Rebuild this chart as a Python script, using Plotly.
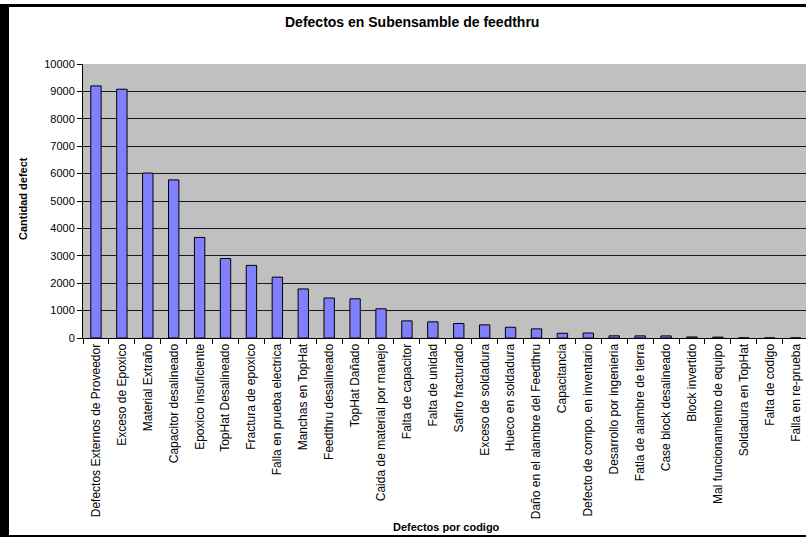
import plotly.graph_objects as go

categories = [
    "Defectos Externos de Proveedor", "Exceso de Epoxico", "Material Extraño",
    "Capacitor desalineado", "Epoxico insuficiente", "TopHat Desalineado",
    "Fractura de epoxico", "Falla en prueba electrica", "Manchas en TopHat",
    "Feedthru desalineado", "TopHat Dañado", "Caida de material por manejo",
    "Falta de capacitor", "Falta de unidad", "Safiro fracturado",
    "Exceso de soldadura", "Hueco en soldadura", "Daño en el alambre del Feedthru",
    "Capacitancia", "Defecto de compo. en inventario", "Desarrollo por ingenieria",
    "Fatla de alambre de tierra", "Case block desalineado", "Block invertido",
    "Mal funcionamiento de equipo", "Soldadura en TopHat", "Falta de codigo",
    "Falla en re-prueba",
]
values = [9200, 9080, 6020, 5770, 3670, 2900, 2650, 2220, 1790, 1460,
          1430, 1065, 625, 590, 528, 480, 392, 333,
          172, 182, 80, 78, 76, 38, 32, 5, 3, 2]
y_ticks = list(range(0, 10001, 1000))
y_tick_labels = [str(v) for v in y_ticks]

title_text = "Defectos en Subensamble de feedthru"
x_title = "Defectos por codigo"
y_title = "Cantidad defect"

W, H = 806, 537
L, R, T, B = 83, 0, 64, 537 - 338
PW = W - L - R
PH = H - T - B


def px(x):
    return (x - L) / PW


def py(y):
    return (H - B - y) / PH


FONT = "Liberation Sans, Arial, sans-serif"

fig = go.Figure(
    go.Bar(
        x=categories,
        y=values,
        width=0.4,
        marker=dict(color="#8080FF", line=dict(color="#000000", width=1)),
    )
)

fig.update_layout(
    width=W,
    height=H,
    margin=dict(l=L, r=R, t=T, b=B, pad=0),
    paper_bgcolor="#FFFFFF",
    plot_bgcolor="#C0C0C0",
    showlegend=False,
    bargap=0.6,
    font=dict(family=FONT, size=11, color="#000000"),
    xaxis=dict(
        type="category",
        range=[-0.5, 27.4],
        tickangle=-90,
        tickson="boundaries",
        ticks="outside",
        ticklen=5,
        tickcolor="#000000",
        showline=True,
        linecolor="#000000",
        linewidth=1,
        showgrid=False,
        tickfont=dict(family=FONT, size=12, color="#000000"),
    ),
    yaxis=dict(
        range=[0, 10000],
        tickvals=y_ticks,
        ticktext=y_tick_labels,
        ticks="outside",
        ticklen=5,
        tickcolor="#000000",
        showline=True,
        linecolor="#000000",
        linewidth=1,
        showgrid=True,
        gridcolor="#1a1a1a",
        gridwidth=1,
        zeroline=False,
        tickfont=dict(family=FONT, size=11, color="#000000"),
    ),
    annotations=[
        dict(text="<b>" + title_text + "</b>", xref="paper", yref="paper",
             x=px(412), y=py(22), xanchor="center", yanchor="middle",
             showarrow=False, font=dict(family=FONT, size=14, color="#000000")),
        dict(text="<b>" + y_title + "</b>", xref="paper", yref="paper",
             x=px(23), y=py(199), xanchor="center", yanchor="middle",
             textangle=-90, showarrow=False,
             font=dict(family=FONT, size=11, color="#000000")),
        dict(text="<b>" + x_title + "</b>", xref="paper", yref="paper",
             x=px(446), y=py(527), xanchor="center", yanchor="middle",
             showarrow=False, font=dict(family=FONT, size=11, color="#000000")),
    ],
    shapes=[
        dict(type="rect", xref="paper", yref="paper", x0=px(0), x1=px(9),
             y0=py(537), y1=py(4), fillcolor="#000000", line=dict(width=0), layer="above"),
        dict(type="rect", xref="paper", yref="paper", x0=px(0), x1=px(806),
             y0=py(7), y1=py(4), fillcolor="#000000", line=dict(width=0), layer="above"),
        dict(type="rect", xref="paper", yref="paper", x0=px(0), x1=px(806),
             y0=py(537), y1=py(535), fillcolor="#000000", line=dict(width=0), layer="above"),
    ],
)

fig.write_html("out.html")
